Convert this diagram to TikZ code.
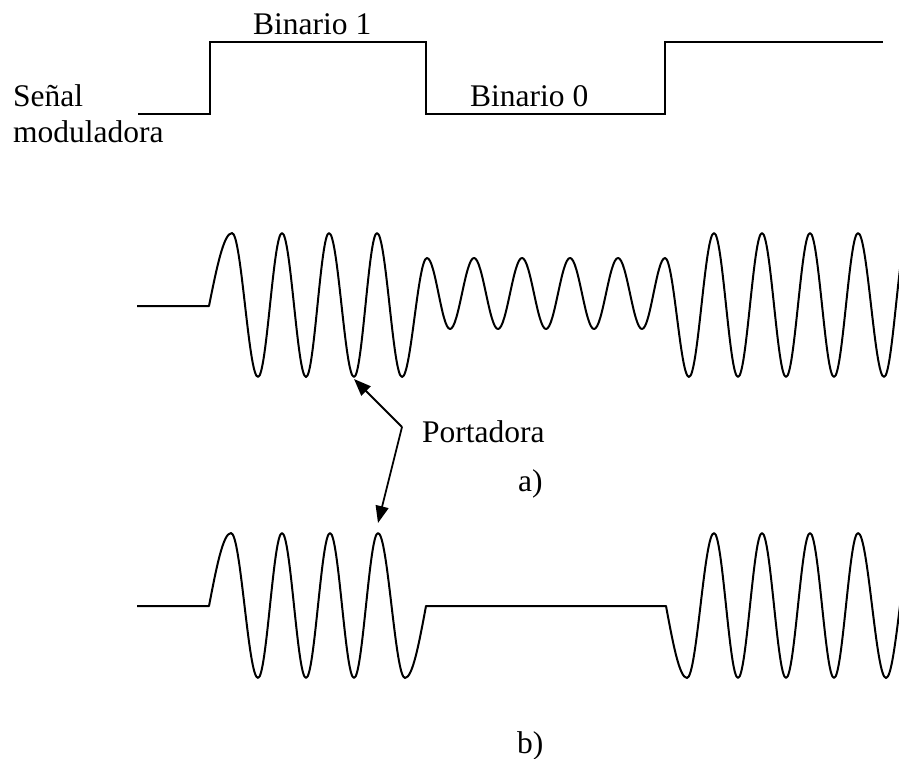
\documentclass[tikz,border=0pt]{standalone}
\usepackage{fontspec}
\setmainfont{Liberation Serif}
\usetikzlibrary{arrows.meta}
\begin{document}
\begin{tikzpicture}[x=1pt,y=-1pt,
  wave/.style={line width=2pt,line join=round},
  sq/.style={line width=1.8pt},
  lbl/.style={anchor=base west,inner sep=0pt,font=\fontsize{31.5}{38}\selectfont},
  pointer/.style={line width=1.8pt,-{Triangle[length=17pt,width=13pt]}}]
\useasboundingbox (0,0) rectangle (899,759);
\clip (0,0) rectangle (899,759);
% modulating signal
\draw[sq] (138,114) -- (210,114) -- (210,42) -- (426,42) -- (426,114) -- (665,114) -- (665,42) -- (883,42);
\node[lbl] (b1) at (253,35) {Binario 1};
\node[lbl] (b0) at (470,107) {Binario 0};
\node[lbl] (sen) at (13,107) {Señal};
\node[lbl] (mod) at (13,143) {moduladora};
% wave a
\draw[wave] (137,306) -- (209,306) sin (232,233)
  cos (245,305) sin (258,377)
  cos (270,305) sin (282,233)
  cos (294,305) sin (306,377)
  cos (317.5,305) sin (329,233)
  cos (341.5,305) sin (354,377)
  cos (365.5,305) sin (377,233)
  cos (389.5,305) sin (402,377)
  cos (414.5,317.5) sin (427,258)
  cos (438.5,293.5) sin (450,329)
  cos (462,293.5) sin (474,258)
  cos (486,293.5) sin (498,329)
  cos (510,293.5) sin (522,258)
  cos (534,293.5) sin (546,329)
  cos (558,293.5) sin (570,258)
  cos (582,293.5) sin (594,329)
  cos (606,293.5) sin (618,258)
  cos (630,293.5) sin (642,329)
  cos (653.5,293.5) sin (665,258)
  cos (677,317.5) sin (689,377)
  cos (701.5,305) sin (714,233)
  cos (726,305) sin (738,377)
  cos (750,305) sin (762,233)
  cos (774,305) sin (786,377)
  cos (798,305) sin (810,233)
  cos (822,305) sin (834,377)
  cos (846,305) sin (858,233)
  cos (871,305) sin (884,377)
  cos (896,305) sin (908,233);
% wave b
\draw[wave] (137,606) -- (209,606) sin (231,533)
  cos (244.5,605.5) sin (258,678)
  cos (270,605.5) sin (282,533)
  cos (294,605.5) sin (306,678)
  cos (318,605.5) sin (330,533)
  cos (342,605.5) sin (354,678)
  cos (366,605.5) sin (378,533)
  cos (391.5,605.5) sin (405,678)
  cos (426,606) -- (666,606) sin (687,678)
  cos (700.5,605.5) sin (714,533)
  cos (726,605.5) sin (738,678)
  cos (750,605.5) sin (762,533)
  cos (774,605.5) sin (786,678)
  cos (798,605.5) sin (810,533)
  cos (822,605.5) sin (834,678)
  cos (846,605.5) sin (858,533)
  cos (872,605.5) sin (886,678)
  cos (900,605.5) sin (914,533);
% pointer
\coordinate (j) at (402,427);
\coordinate (ta) at (354,379);
\coordinate (tb) at (378,523);
\draw[pointer] (j) -- (ta);
\draw[pointer] (j) -- (tb);
\node[lbl] (port) at (422,442) {Portadora};
\node[lbl] (la) at (518,491) {a)};
\node[lbl] (lb) at (517,753) {b)};
\end{tikzpicture}
\end{document}
